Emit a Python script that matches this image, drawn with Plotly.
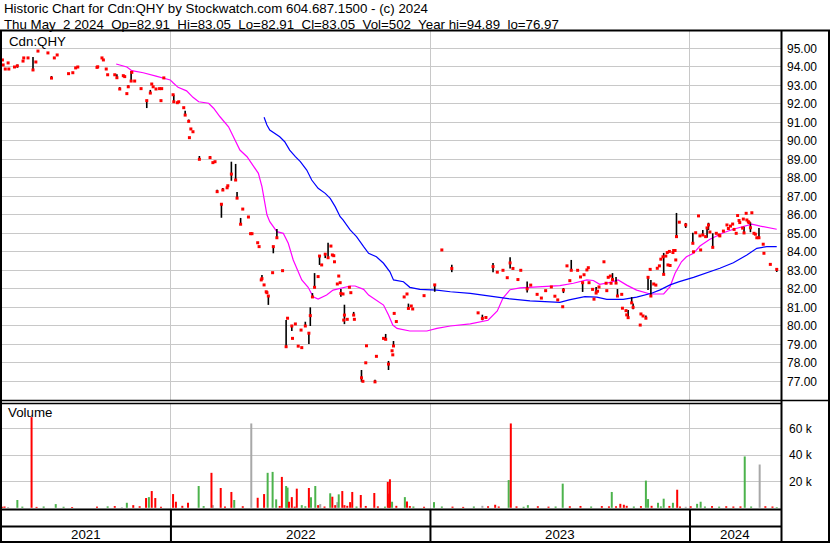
import pandas as pd
import plotly.graph_objects as go

# ---------------- data ----------------
START_DATE = "2021-05-07"
END_DATE = "2024-05-08"
YEAR_STARTS = ["2022-01-01", "2023-01-01", "2024-01-01"]
YEAR_LABELS = ["2021", "2022", "2023", "2024"]
PRICE_TICKS = [77, 78, 79, 80, 81, 82, 83, 84, 85, 86, 87, 88, 89, 90, 91, 92, 93, 94, 95]
VOLUME_TICKS = [20000, 40000, 60000]
VOLUME_TICK_TEXT = ["20 k", "40 k", "60 k"]

HEADER_1 = "Historic Chart for Cdn:QHY by Stockwatch.com 604.687.1500 - (c) 2024"
HEADER_2 = ("Thu May\u00a0 2 2024\u00a0 Op=82.91\u00a0 Hi=83.05\u00a0 Lo=82.91\u00a0 "
            "Cl=83.05\u00a0 Vol=502\u00a0 Year hi=94.89\u00a0 lo=76.97")
SYMBOL = "Cdn:QHY"

# closing prices (day number counted from START_DATE)
close_day = [
    # 2021
    2, 3, 6, 10, 11, 19, 23, 31, 32, 38,
    45, 49, 52, 66, 71, 75, 79, 95, 101, 105,
    108, 135, 136, 142, 144, 148, 150, 160, 163, 167,
    172, 174, 177, 179, 183, 184, 188, 197, 205, 210,
    212, 214, 218, 223, 225, 226, 229,
    # 2022
    242, 243, 248, 250, 257, 259, 264, 265, 267, 270,
    279, 294, 298, 301, 304, 310, 312, 318, 319, 324,
    330, 332, 337, 340, 348, 351, 353, 361, 363, 366,
    367, 370, 373, 374, 376, 382, 383, 388, 396, 401,
    403, 409, 410, 414, 418, 422, 423, 428, 433, 435,
    438, 441, 446, 448, 451, 456, 460, 464, 466, 468,
    469, 473, 475, 477, 478, 481, 482, 483, 487, 490,
    492, 496, 497, 507, 509, 513, 514, 526, 528, 538,
    541, 545, 550, 551, 552, 553, 556, 567, 571, 573,
    577, 579, 595,
    # 2023
    610, 620, 634, 671, 677, 682, 692, 698, 706, 712,
    716, 720, 727, 731, 740, 745, 754, 760, 766, 774,
    779, 783, 790, 791, 796, 800, 802, 811, 815, 818,
    820, 824, 826, 827, 832, 834, 837, 839, 841, 848,
    851, 852, 854, 857, 858, 860, 865, 867, 873, 874,
    879, 880, 882, 887, 889, 899, 900, 903, 907, 910,
    913, 914, 918, 921, 923, 926, 928, 931, 932, 935,
    937, 938, 940, 941, 945, 946, 948, 949, 950, 954,
    963,
    # 2024
    973, 974, 977, 981, 983, 984, 987, 991, 993, 995,
    997, 1001, 1006, 1010, 1011, 1016, 1021, 1023, 1026, 1029,
    1031, 1034, 1036, 1038, 1039, 1043, 1044, 1045, 1048, 1049,
    1051, 1052, 1054, 1056, 1059, 1061, 1063, 1066, 1072, 1073,
    1082, 1091,
]
close_price = [
    # 2021
    94.37, 94.10, 93.88, 94.21, 93.88, 93.99, 94.05, 94.31, 94.48, 94.48,
    93.83, 94.26, 94.85, 94.75, 93.39, 94.48, 94.64, 93.63, 93.68, 93.94,
    93.99, 93.97, 94.00, 94.48, 94.37, 93.88, 93.57, 93.57, 93.41, 92.80,
    93.52, 93.47, 92.55, 92.92, 93.23, 93.70, 93.23, 92.82, 92.17, 92.58,
    93.07, 92.92, 92.80, 92.82, 92.17, 92.82, 93.40,
    # 2022
    92.49, 92.11, 92.06, 92.11, 91.79, 91.39, 91.05, 90.17, 90.64, 90.49,
    89.00, 89.09, 88.82, 88.87, 87.25, 86.57, 87.34, 87.46, 87.57, 88.20,
    87.88, 86.90, 85.49, 86.31, 85.88, 84.98, 84.98, 84.49, 84.28, 82.48,
    82.55, 82.21, 81.84, 81.79, 81.61, 82.87, 84.28, 84.76, 82.98, 78.87,
    80.41, 79.99, 79.32, 80.10, 78.90, 79.77, 78.82, 79.99, 79.60, 80.55,
    81.56, 82.08, 82.66, 83.77, 83.29, 83.87, 83.68, 84.31, 83.83, 83.79,
    83.46, 82.26, 82.69, 82.33, 81.75, 81.72, 80.31, 80.58, 80.35, 82.08,
    81.79, 80.58, 80.35, 77.19, 77.00, 78.00, 78.92, 76.97, 78.35, 79.32,
    79.27, 77.93, 78.65, 78.43, 78.91, 80.67, 80.23, 81.56, 81.72, 80.94,
    81.07, 80.91, 81.63,
    # 2023
    82.21, 84.10, 83.10, 80.70, 80.40, 80.45, 83.20, 82.90, 83.00, 82.60,
    83.40, 83.10, 82.50, 83.00, 82.00, 82.20, 81.70, 81.50, 81.90, 82.10,
    81.60, 81.40, 81.03, 81.93, 83.24, 82.44, 83.00, 83.00, 82.64, 82.33,
    82.76, 83.02, 83.14, 82.33, 81.97, 81.44, 81.77, 81.87, 82.10, 83.46,
    82.30, 81.90, 82.62, 82.69, 82.30, 82.50, 82.31, 81.61, 81.70, 80.95,
    80.82, 80.59, 80.44, 81.24, 81.00, 80.04, 80.64, 80.53, 80.41, 82.62,
    83.05, 81.61, 82.26, 82.20, 83.11, 83.24, 83.60, 83.73, 82.78, 83.77,
    83.96, 83.29, 84.02, 83.26, 83.96, 84.07, 84.07, 83.56, 84.82, 85.60,
    85.45,
    # 2024
    84.46, 84.00, 85.03, 85.94, 84.86, 84.10, 84.91, 84.82, 85.29, 85.45,
    85.07, 84.24, 85.00, 84.91, 84.86, 85.12, 85.45, 85.26, 85.39, 85.50,
    85.21, 85.00, 85.96, 85.69, 85.58, 85.28, 85.77, 85.02, 86.08, 85.72,
    85.63, 85.58, 85.30, 86.11, 85.00, 84.95, 84.76, 84.76, 84.41, 83.92,
    83.32, 83.05,
]

# daily high-low ranges (days that traded over a range)
bar_day = [
    23, 45, 71, 135, 163, 167, 179, 183, 205, 210,
    243, 259, 264, 279, 294, 304, 310, 312, 324, 330,
    332, 337, 367, 376, 383, 388, 401, 409, 428, 433,
    435, 438, 441, 448, 456, 460, 478, 483, 496, 507,
    526, 541, 545, 552, 573, 610, 634, 677, 692, 716,
    740, 791, 802, 818, 837, 860, 865, 867, 882, 887,
    889, 907, 910, 914, 932, 950, 963, 973, 987, 993,
    995, 1001, 1045, 1054, 1066, 1091,
]
bar_high = [
    94.12, 94.53, 93.50, 94.05, 93.60, 92.90, 93.00, 93.77, 92.20, 92.75,
    92.49, 91.63, 91.15, 89.18, 89.18, 87.35, 86.57, 87.45, 88.87, 88.75,
    87.23, 85.83, 82.75, 81.61, 84.28, 85.23, 80.32, 79.99, 80.22, 79.61,
    81.00, 81.77, 82.85, 83.79, 83.93, 84.49, 81.99, 81.14, 80.75, 77.61,
    77.08, 79.56, 78.10, 79.18, 81.20, 82.24, 83.30, 80.60, 83.40, 83.70,
    82.40, 82.04, 83.56, 82.33, 82.10, 82.85, 82.64, 81.99, 80.85, 81.55,
    81.21, 80.56, 82.62, 82.48, 83.94, 86.10, 85.56, 85.03, 85.18, 85.29,
    85.57, 85.00, 85.36, 85.60, 85.29, 83.05,
]
bar_low = [
    93.95, 93.83, 93.39, 93.97, 93.41, 92.80, 92.92, 93.23, 91.77, 92.58,
    92.11, 91.39, 91.05, 89.00, 89.09, 87.25, 85.84, 87.34, 87.84, 87.88,
    86.90, 85.45, 82.55, 81.13, 83.92, 84.76, 78.87, 79.72, 79.99, 79.02,
    79.99, 81.56, 82.08, 83.29, 83.66, 83.65, 81.57, 80.09, 80.53, 76.98,
    76.97, 79.27, 77.61, 78.91, 80.94, 81.84, 82.90, 80.30, 82.90, 83.10,
    81.80, 81.77, 83.00, 81.83, 81.77, 82.48, 82.31, 81.61, 80.44, 81.24,
    80.90, 80.39, 81.93, 81.61, 82.78, 84.82, 85.29, 84.46, 84.91, 84.76,
    85.18, 84.24, 85.02, 85.06, 84.76, 82.91,
]

# short moving average (magenta)
ma_short_day = [
    162, 177, 184, 200, 218, 238, 242, 249, 261, 270,
    278, 292, 299, 308, 320, 327, 336, 346, 355, 362,
    367, 371, 374, 378, 388, 397, 404, 411, 423, 432,
    439, 446, 458, 467, 477, 491, 498, 510, 517, 528,
    538, 545, 551, 557, 575, 599, 613, 632, 660, 685,
    698, 706, 716, 730, 758, 786, 805, 824, 833, 842,
    857, 868, 880, 894, 913, 932, 941, 948, 957, 964,
    974, 983, 997, 1016, 1030, 1044, 1056, 1068, 1082, 1091,
]
ma_short_value = [
    94.15, 93.99, 93.79, 93.68, 93.50, 93.29, 93.14, 92.89, 92.70, 92.35,
    92.11, 92.03, 91.76, 91.30, 90.76, 90.22, 89.50, 89.14, 88.60, 88.24,
    87.52, 86.62, 86.00, 85.63, 85.09, 85.00, 84.46, 83.56, 82.48, 82.08,
    81.57, 81.45, 81.66, 81.93, 82.03, 82.15, 82.15, 81.97, 81.66, 81.39,
    81.12, 80.58, 80.04, 79.86, 79.72, 79.72, 79.86, 79.99, 80.10, 80.30,
    80.80, 81.50, 81.95, 82.05, 82.10, 82.17, 82.30, 82.48, 82.45, 82.24,
    82.35, 82.48, 82.20, 81.93, 81.72, 81.72, 82.12, 82.84, 83.46, 83.73,
    83.92, 84.31, 84.68, 85.03, 85.22, 85.36, 85.49, 85.39, 85.30, 85.22,
]

# long moving average (blue)
ma_long_day = [
    370, 374, 378, 385, 392, 399, 406, 414, 421, 430,
    437, 446, 456, 463, 470, 477, 481, 491, 500, 510,
    517, 528, 538, 547, 552, 566, 575, 589, 613, 632,
    660, 688, 716, 744, 765, 786, 799, 821, 838, 852,
    875, 894, 915, 927, 941, 954, 974, 993, 1011, 1030,
    1049, 1063, 1077, 1091,
]
ma_long_value = [
    91.27, 90.85, 90.58, 90.40, 90.22, 89.95, 89.50, 89.14, 88.87, 88.42,
    87.88, 87.43, 87.16, 86.89, 86.44, 85.90, 85.72, 85.18, 84.82, 84.28,
    83.92, 83.73, 83.38, 82.92, 82.48, 82.38, 82.08, 81.97, 81.93, 81.84,
    81.75, 81.60, 81.45, 81.35, 81.30, 81.27, 81.40, 81.58, 81.55, 81.43,
    81.43, 81.55, 81.76, 81.94, 82.21, 82.39, 82.62, 82.87, 83.11, 83.41,
    83.83, 84.19, 84.28, 84.28,
]

# volume (thousands of shares); direction: d = down day, u = up day, f = unchanged
vol_day = [
    23, 43, 77, 160, 177, 186, 204, 208, 212, 217,
    242, 246, 263, 278, 296, 298, 309, 324, 328, 352,
    361, 370, 375, 382, 387, 395, 401, 403, 405, 409,
    416, 423, 433, 436, 442, 446, 449, 463, 466, 470,
    473, 475, 480, 483, 491, 494, 506, 525, 544, 546,
    547, 550, 568, 571, 575, 609, 677, 695, 714, 717,
    741, 790, 859, 871, 876, 907, 910, 924, 932, 945,
    951, 963, 979, 984, 1046, 1067,
    2, 5, 10, 30, 50, 60, 88, 100, 135, 150,
    170, 195, 225, 255, 285, 315, 340, 392, 413, 428,
    455, 487, 500, 513, 530, 540, 556, 580, 595, 620,
    635, 650, 665, 685, 700, 725, 735, 755, 770, 780,
    800, 815, 830, 845, 855, 865, 880, 890, 900, 915,
    928, 940, 955, 970, 990, 1000, 1010, 1020, 1030, 1040,
    1055, 1075, 1085, 1091,
]
vol_thousands = [
    5.9, 68.7, 2.8, 1.3, 3.8, 2.0, 7.4, 8.1, 12.7, 7.4,
    10.4, 4.6, 3.8, 16.5, 26.5, 2.0, 15.0, 12.0, 5.9, 63.9,
    7.6, 10.4, 26.5, 27.2, 6.4, 23.4, 16.5, 15.3, 4.6, 8.1,
    14.5, 2.0, 15.0, 8.0, 16.5, 2.0, 2.8, 11.0, 8.4, 2.0,
    4.3, 10.2, 12.7, 2.0, 4.3, 12.0, 9.7, 11.2, 19.6, 10.7,
    21.6, 4.6, 8.1, 4.8, 1.3, 4.3, 1.5, 2.3, 21.0, 63.9,
    2.0, 18.3, 12.0, 3.0, 2.3, 20.6, 6.6, 3.8, 6.9, 3.8,
    13.7, 0.8, 3.0, 4.6, 38.9, 32.8,
    0.8, 1.0, 0.6, 0.9, 0.7, 1.0, 0.8, 0.6, 0.9, 1.1,
    0.5, 1.2, 0.8, 1.5, 1.3, 1.0, 1.2, 1.4, 0.9, 1.2,
    1.0, 1.5, 1.0, 1.4, 1.1, 0.9, 1.5, 1.0, 0.8, 1.0,
    0.9, 0.7, 1.0, 1.2, 1.0, 1.1, 0.8, 1.2, 0.9, 1.0,
    1.2, 1.4, 1.0, 1.3, 1.1, 1.2, 1.5, 1.0, 1.3, 1.5,
    1.1, 1.4, 1.0, 1.2, 1.0, 1.3, 0.9, 1.2, 1.0, 1.1,
    1.0, 1.2, 1.0, 0.5,
]
vol_dir = list(
    "udududdudd" "dddudfdduf" "dduuuduudd" "duduudfudd" "fudddddddd"
    "duuddufdud" "uuudduuuuu" "dfuuuf"
    "ddfuduuddu" "fddduddddu" "dduddududu" "dduddduddu" "dduddddudd"
    "udddududdd" "uddu"
)
assert len(close_day) == len(close_price)
assert len(bar_day) == len(bar_high) == len(bar_low)
assert len(ma_short_day) == len(ma_short_value)
assert len(ma_long_day) == len(ma_long_value)
assert len(vol_day) == len(vol_thousands) == len(vol_dir)

# ---------------- layout helpers ----------------
W, H = 830, 543
FONT = "Liberation Sans, Arial, sans-serif"
GRID = "#c8c8c8"
PLOT_L, PLOT_R = 1, 781          # plot area left / right (px)
PRICE_T, PRICE_B = 31, 400       # price panel top / bottom (px)
VOL_T, VOL_B = 403, 509          # volume panel top / bottom (px)


def fx(px):
    return px / W


def fy(py):
    return 1 - py / H


start = pd.Timestamp(START_DATE)


def to_date(d):
    return start + pd.Timedelta(days=int(d))


fig = go.Figure()

# moving averages
fig.add_trace(go.Scatter(x=[to_date(d) for d in ma_short_day], y=ma_short_value,
                         mode="lines", line=dict(color="#ff00ff", width=1.2),
                         hoverinfo="skip", xaxis="x", yaxis="y"))
fig.add_trace(go.Scatter(x=[to_date(d) for d in ma_long_day], y=ma_long_value,
                         mode="lines", line=dict(color="#0000ff", width=1.2),
                         hoverinfo="skip", xaxis="x", yaxis="y"))

# high-low bars
hl_x, hl_y = [], []
for d, hi, lo in zip(bar_day, bar_high, bar_low):
    t = to_date(d)
    hl_x += [t, t, None]
    hl_y += [lo, hi, None]
fig.add_trace(go.Scatter(x=hl_x, y=hl_y, mode="lines",
                         line=dict(color="#000000", width=1.6),
                         hoverinfo="skip", xaxis="x", yaxis="y"))

# close markers
fig.add_trace(go.Scatter(x=[to_date(d) for d in close_day], y=close_price,
                         mode="markers",
                         marker=dict(symbol="square", size=3, color="#ff0000",
                                     line=dict(width=0)),
                         hoverinfo="skip", xaxis="x", yaxis="y"))

# volume bars
VOL_COLORS = {"d": "#ff0000", "u": "#4cb34c", "f": "#a8a8a8"}
for key in ["f", "u", "d"]:
    vx, vy = [], []
    for d, v, k in zip(vol_day, vol_thousands, vol_dir):
        if k != key:
            continue
        t = to_date(d)
        vx += [t, t, None]
        vy += [0, v * 1000, None]
    fig.add_trace(go.Scatter(x=vx, y=vy, mode="lines",
                             line=dict(color=VOL_COLORS[key], width=2),
                             hoverinfo="skip", xaxis="x2", yaxis="y2"))

# volume axis range: 20k per 26.4 px, zero at 507.8 px
v_per_px = 20000 / 26.4
vol_range = [-(VOL_B - 507.8) * v_per_px, (507.8 - VOL_T) * v_per_px]
# price axis range: 1.00 per 18.5 px, 95.00 at 48.3 px
p_per_px = 1 / 18.5
price_range = [95 - (PRICE_B - 48.3) * p_per_px, 95 + (48.3 - PRICE_T) * p_per_px]

common_x = dict(type="date", range=[START_DATE, END_DATE],
                domain=[fx(PLOT_L), fx(PLOT_R)],
                tickvals=YEAR_STARTS, showticklabels=False, ticks="",
                showgrid=True, gridcolor=GRID, gridwidth=1,
                zeroline=False, showline=False, automargin=False, fixedrange=True)

fig.update_layout(
    width=W, height=H,
    margin=dict(l=0, r=0, t=0, b=0),
    paper_bgcolor="white", plot_bgcolor="white",
    showlegend=False,
    template="none",
    font=dict(family=FONT, color="#000000", size=12),
    xaxis=dict(**common_x, anchor="y"),
    xaxis2=dict(**common_x, anchor="y2", matches="x"),
    yaxis=dict(domain=[fy(PRICE_B), fy(PRICE_T)], range=price_range,
               side="right", tickvals=PRICE_TICKS, tickformat=".2f",
               showgrid=True, gridcolor=GRID, gridwidth=1, ticks="",
               ticklabelstandoff=5,
               tickfont=dict(family=FONT, size=12, color="#000000"),
               zeroline=False, showline=False, automargin=False, anchor="x"),
    yaxis2=dict(domain=[fy(VOL_B), fy(VOL_T)], range=vol_range,
                side="right", tickvals=VOLUME_TICKS, ticktext=VOLUME_TICK_TEXT,
                showgrid=True, gridcolor=GRID, gridwidth=1, ticks="",
                ticklabelstandoff=7,
                tickfont=dict(family=FONT, size=12, color="#000000"),
                zeroline=False, showline=False, automargin=False, anchor="x2"),
)

# frame lines
def hline(py, x0, x1, w=2):
    fig.add_shape(type="line", xref="paper", yref="paper",
                  x0=fx(x0), x1=fx(x1), y0=fy(py), y1=fy(py),
                  line=dict(color="#000000", width=w))


def vline(px, y0, y1, w=2):
    fig.add_shape(type="line", xref="paper", yref="paper",
                  x0=fx(px), x1=fx(px), y0=fy(y0), y1=fy(y1),
                  line=dict(color="#000000", width=w))


hline(30.5, 0, W, 2)            # header separator
hline(400.5, 0, W, 1.5)         # price bottom
hline(403.5, 0, PLOT_R, 1.5)    # volume top
hline(509.5, 0, PLOT_R, 2)      # volume bottom
hline(526.5, 0, PLOT_R, 2)      # band separator
hline(542, 0, W, 2)             # bottom border
vline(1, 31, H, 2)              # left border
vline(781.5, 31, 542, 2)        # axis divider
vline(829, 31, H, 2)            # right border

# year dividers in the bottom band
for ys in YEAR_STARTS:
    fig.add_shape(type="line", xref="x", yref="paper", x0=ys, x1=ys,
                  y0=fy(VOL_B), y1=fy(542), line=dict(color="#000000", width=2))

# year labels centred in each year cell
bounds = [pd.Timestamp(START_DATE)] + [pd.Timestamp(y) for y in YEAR_STARTS] + [pd.Timestamp(END_DATE)]
for label, a, b in zip(YEAR_LABELS, bounds[:-1], bounds[1:]):
    fig.add_annotation(x=a + (b - a) / 2, y=fy(534.5), xref="x", yref="paper",
                       text=label, showarrow=False, xanchor="center", yanchor="middle",
                       font=dict(family=FONT, size=13.3, color="#000000"))

# header text
fig.add_annotation(x=fx(2), y=fy(9), xref="paper", yref="paper", text=HEADER_1,
                   showarrow=False, xanchor="left", yanchor="middle",
                   font=dict(family=FONT, size=13.3, color="#000000"))
fig.add_annotation(x=fx(2), y=fy(24.5), xref="paper", yref="paper", text=HEADER_2,
                   showarrow=False, xanchor="left", yanchor="middle",
                   font=dict(family=FONT, size=13.3, color="#000000"))
fig.add_annotation(x=fx(7), y=fy(41.5), xref="paper", yref="paper", text=SYMBOL,
                   showarrow=False, xanchor="left", yanchor="middle",
                   font=dict(family=FONT, size=13.3, color="#000000"))
fig.add_annotation(x=fx(6), y=fy(413), xref="paper", yref="paper", text="Volume",
                   showarrow=False, xanchor="left", yanchor="middle",
                   font=dict(family=FONT, size=13.3, color="#000000"))

fig.write_html("out.html",
               config={"displayModeBar": False, "staticPlot": True},
               post_script="document.body.style.margin='0';"
                           "document.body.style.overflow='hidden';")
